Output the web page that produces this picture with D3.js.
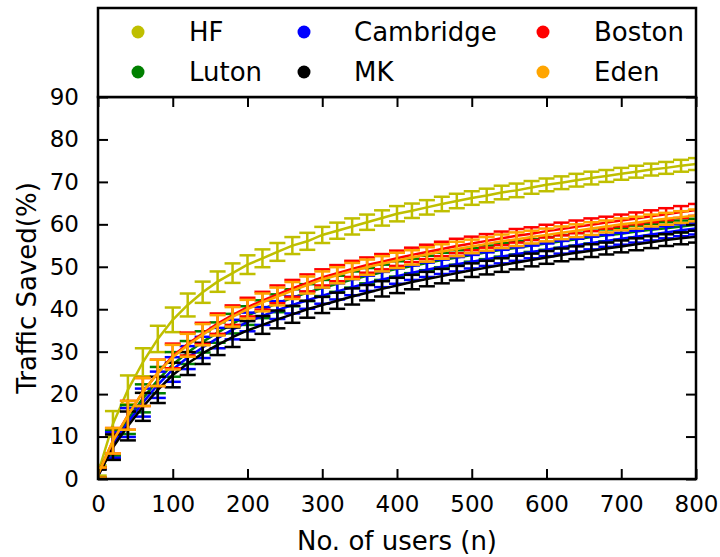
<!DOCTYPE html>
<html>
<head>
<meta charset="utf-8">
<script src="https://cdn.jsdelivr.net/npm/d3@7"></script>
<style>
  body { margin: 0; background: #fff; }
  text { font-family: "DejaVu Sans", sans-serif; fill: #000; }
</style>
</head>
<body>
<svg id="chart" width="720" height="557"></svg>
<script>
// number of users at each measured point
const users = [1, 20, 40, 60, 80, 100, 120, 140, 160, 180, 200, 220, 240, 260, 280, 300,
  320, 340, 360, 380, 400, 420, 440, 460, 480, 500, 520, 540, 560, 580, 600,
  620, 640, 660, 680, 700, 720, 740, 760, 780, 800];

// traffic saved (%) per area
const hf = [2, 13, 21, 27.5, 33, 37.5, 41, 44, 46.5, 48.5, 50.5, 52, 53.5, 55, 56, 57.5,
  58.5, 59.5, 60.5, 61.5, 62.5, 63.2, 64, 64.8, 65.5, 66.2, 66.8, 67.5, 68, 68.7, 69.3,
  69.8, 70.4, 70.9, 71.4, 71.9, 72.4, 72.9, 73.3, 73.8, 74.2];
const luton = [1.5, 8.5, 14, 19, 23.3, 27, 29.8, 32.3, 34.5, 36.6, 38.5, 40, 41.4, 42.7, 43.9, 45,
  46, 47, 47.9, 48.7, 49.5, 50.2, 50.9, 51.6, 52.2, 52.8, 53.4, 54, 54.5, 55, 55.5,
  56, 56.5, 57, 57.4, 57.8, 58.3, 58.7, 59.1, 59.5, 59.9];
const cambridge = [1.2, 8, 13.3, 18, 22.2, 25.8, 28.6, 31, 33.2, 35.2, 37, 38.4, 39.8, 41, 42.1, 43.2,
  44.2, 45.2, 46.1, 47, 47.8, 48.6, 49.3, 50, 50.6, 51.2, 51.8, 52.4, 53, 53.5, 54,
  54.6, 55.1, 55.6, 56.1, 56.6, 57.1, 57.6, 58.1, 58.6, 59];
const mk = [1, 7.5, 12.5, 17, 21, 24.5, 27.2, 29.6, 31.6, 33.4, 35, 36.3, 37.6, 38.8, 40, 41,
  42, 43, 43.9, 44.8, 45.6, 46.4, 47.1, 47.8, 48.5, 49.2, 49.8, 50.4, 51, 51.6, 52.2,
  52.8, 53.3, 53.8, 54.3, 54.8, 55.3, 55.8, 56.3, 56.7, 57.1];
const boston = [1.5, 9, 15, 20.5, 25, 29, 31.8, 34.3, 36.6, 38.6, 40.5, 42, 43.5, 44.9, 46.2, 47.5,
  48.5, 49.5, 50.4, 51.2, 52, 52.8, 53.5, 54.2, 54.9, 55.5, 56.1, 56.7, 57.3, 57.8, 58.4,
  58.9, 59.4, 59.9, 60.4, 60.9, 61.4, 61.9, 62.4, 62.9, 63.4];
const eden = [1.5, 9, 15, 20.5, 25, 28.7, 31.5, 34, 36.2, 38.2, 40, 41.6, 43, 44.4, 45.7, 47,
  48, 49, 49.9, 50.7, 51.5, 52.2, 52.9, 53.6, 54.2, 54.8, 55.4, 56, 56.5, 57, 57.5,
  58, 58.5, 59, 59.5, 60, 60.4, 60.9, 61.3, 61.7, 62.1];

// half-width of the error bars (%)
const errors = [1.2, 3, 3.4, 3.3, 3.1, 2.9, 2.7, 2.5, 2.4, 2.3, 2.2, 2.1, 2.1, 2, 2, 1.9,
  1.9, 1.9, 1.8, 1.8, 1.8, 1.7, 1.7, 1.7, 1.7, 1.6, 1.6, 1.6, 1.6, 1.5, 1.5,
  1.5, 1.5, 1.5, 1.4, 1.4, 1.4, 1.4, 1.4, 1.4, 1.4];

const names = ['HF', 'Luton', 'Cambridge', 'MK', 'Boston', 'Eden'];
const colors = ['#bfbf00', '#008000', '#0000ff', '#000000', '#ff0000', '#ffa500'];
const allValues = [hf, luton, cambridge, mk, boston, eden];

const xTicks = d3.range(0, 801, 100);
const yTicks = d3.range(0, 91, 10);

const margin = {left: 98, right: 24, top: 97, bottom: 78};
const svgWidth = 720, svgHeight = 557;
const width = svgWidth - margin.left - margin.right;
const height = svgHeight - margin.top - margin.bottom;

const svg = d3.select("#chart");
const chartGroup = svg.append("g")
  .attr("transform", `translate(${margin.left}, ${margin.top})`);

const xScale = d3.scaleLinear().domain([0, 800]).range([0, width]);
const yScale = d3.scaleLinear().domain([0, 90]).range([height, 0]);

// clip so error bars stay inside the frame
svg.append("defs").append("clipPath").attr("id", "clip")
  .append("rect").attr("width", width).attr("height", height);

const plot = chartGroup.append("g").attr("clip-path", "url(#clip)");

// series, drawn in legend order so Eden ends on top
const capHalf = 8;
allValues.forEach((vals, i) => {
  const pts = users.map((u, j) => ({x: u, y: vals[j], e: errors[j]}));
  const g = plot.append("g").attr("stroke", colors[i]).attr("fill", "none");

  g.append("path")
    .datum(pts)
    .attr("stroke-width", 2.5)
    .attr("d", d3.line().x(d => xScale(d.x)).y(d => yScale(d.y)));

  const bars = g.selectAll("g.bar").data(pts).enter().append("g")
    .attr("stroke-width", 2.5);
  bars.append("line")
    .attr("x1", d => xScale(d.x)).attr("x2", d => xScale(d.x))
    .attr("y1", d => yScale(d.y - d.e)).attr("y2", d => yScale(d.y + d.e));
  bars.append("line")
    .attr("x1", d => xScale(d.x) - capHalf).attr("x2", d => xScale(d.x) + capHalf)
    .attr("y1", d => yScale(d.y - d.e)).attr("y2", d => yScale(d.y - d.e));
  bars.append("line")
    .attr("x1", d => xScale(d.x) - capHalf).attr("x2", d => xScale(d.x) + capHalf)
    .attr("y1", d => yScale(d.y + d.e)).attr("y2", d => yScale(d.y + d.e));
});

// axes: ticks point inward on all four sides
const tickLen = 10;
const bottomAxis = d3.axisBottom(xScale).tickValues(xTicks).tickSize(-tickLen).tickPadding(tickLen + 7);
const topAxis = d3.axisTop(xScale).tickValues(xTicks).tickSize(-tickLen).tickFormat("");
const leftAxis = d3.axisLeft(yScale).tickValues(yTicks).tickSize(-tickLen).tickPadding(tickLen + 9);
const rightAxis = d3.axisRight(yScale).tickValues(yTicks).tickSize(-tickLen).tickFormat("");

const axes = [
  chartGroup.append("g").attr("transform", `translate(0, ${height})`).call(bottomAxis),
  chartGroup.append("g").call(topAxis),
  chartGroup.append("g").call(leftAxis),
  chartGroup.append("g").attr("transform", `translate(${width}, 0)`).call(rightAxis)
];
axes.forEach(a => {
  a.select(".domain").remove();
  a.selectAll(".tick line").attr("stroke", "#000").attr("stroke-width", 2);
  a.selectAll(".tick text")
    .style("font-family", "DejaVu Sans, sans-serif")
    .style("font-size", "23px");
});

// frame
chartGroup.append("rect")
  .attr("width", width).attr("height", height)
  .attr("fill", "none").attr("stroke", "#000").attr("stroke-width", 2.5);

// axis labels
svg.append("text")
  .attr("x", margin.left + width / 2).attr("y", 550)
  .attr("text-anchor", "middle")
  .style("font-size", "26px")
  .text("No. of users (n)");

svg.append("text")
  .attr("transform", `translate(36, ${margin.top + height / 2}) rotate(-90)`)
  .attr("text-anchor", "middle")
  .style("font-size", "26px")
  .text("Traffic Saved(%)");

// legend box sits right on top of the plot
const legend = svg.append("g");
legend.append("rect")
  .attr("x", margin.left).attr("y", 8)
  .attr("width", width).attr("height", margin.top - 8)
  .attr("fill", "#fff").attr("stroke", "#000").attr("stroke-width", 2.5);

const legendCols = [{mx: 138, tx: 189}, {mx: 304, tx: 354}, {mx: 543, tx: 594}];
const legendRows = [32, 72];
names.forEach((name, i) => {
  const col = legendCols[Math.floor(i / 2)];
  const y = legendRows[i % 2];
  legend.append("circle")
    .attr("cx", col.mx).attr("cy", y).attr("r", 6.5)
    .attr("fill", colors[i]);
  legend.append("text")
    .attr("x", col.tx).attr("y", y)
    .attr("dy", "0.36em")
    .style("font-size", "26px")
    .text(name);
});
</script>
</body>
</html>
